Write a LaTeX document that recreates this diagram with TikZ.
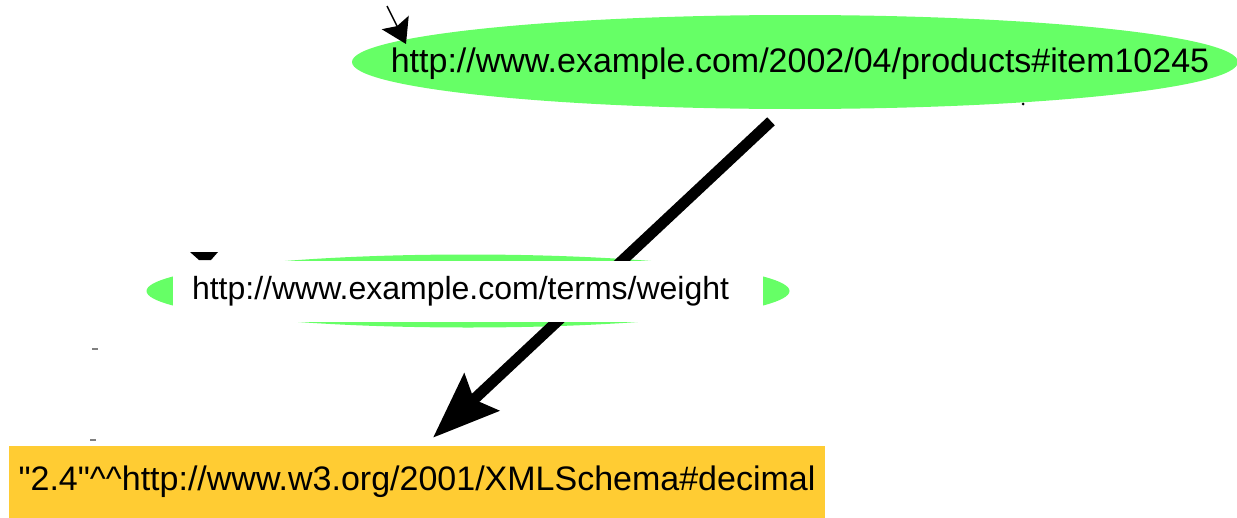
\documentclass[tikz,border=0pt]{standalone}
\usepackage{fontspec}
\setmainfont{Liberation Sans}
\usetikzlibrary{arrows.meta,shapes.geometric,positioning}
\definecolor{resgreen}{HTML}{66FF66}
\definecolor{litorange}{HTML}{FFCC33}

\begin{document}
\begin{tikzpicture}[x=1pt,y=-1pt,semithick,font=\fontsize{34}{40}\selectfont]
  \tikzstyle{resource}=[ellipse,fill=resgreen,draw=none,inner sep=0pt]
  \tikzstyle{propbox}=[rectangle,fill=white,inner ysep=0pt,inner xsep=19pt,text width=552pt,align=left,font=\fontsize{32}{40}\selectfont]
  \tikzstyle{literal}=[rectangle,fill=litorange,inner sep=0pt]
  \tikzstyle{bigarrow}=[-{Stealth[length=66pt,width=50pt,inset=10pt]},line width=11pt]
  \tikzstyle{smallarrow}=[-{Stealth[length=24pt,width=30pt,inset=4pt]},line width=1.5pt]

  \useasboundingbox (0,0) rectangle (1237,517);

  \node[resource,minimum width=886pt,minimum height=94pt] (item) at (795,62) {};
  \node (itemtext) at ([xshift=5pt,yshift=-2pt]item.center) {http://www.example.com/2002/04/products\#item10245};
  \node[resource,minimum width=643pt,minimum height=73pt] (weight) at (468,291) {};
  \node[literal,minimum width=816pt,minimum height=72pt] (lit) at (417,482) {\textquotedbl 2.4\textquotedbl\textasciicircum\textasciicircum http://www.w3.org/2001/XMLSchema\#decimal};
  \coordinate (src) at (387,6);
  \coordinate (itemin) at ([xshift=-389pt,yshift=18pt]item.center);

  \draw[smallarrow] (src) -- (itemin);
  \draw[bigarrow] ([xshift=-24pt,yshift=-12pt]item.south) -- ([xshift=16pt,yshift=8pt]lit.north);
  % stray bits of cut-off edges
  \fill (190,252) -- (218,252) -- (211,260) -- (199,260) -- cycle;
  \fill (1023,104) circle (1.5pt);
  \fill[gray] (92,348) rectangle (98,350);
  \fill[gray] (90,439) rectangle (96,441);

  \node[propbox,minimum height=61pt] (weightlbl) at (weight) {http://www.example.com/terms/weight};
\end{tikzpicture}
\end{document}
